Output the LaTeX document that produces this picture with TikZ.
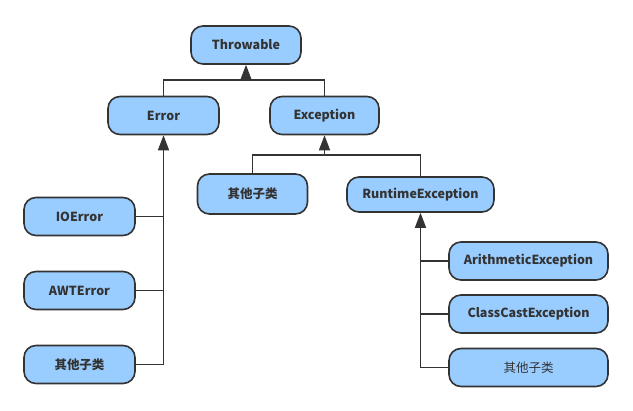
\documentclass[tikz,border=0pt]{standalone}
\usepackage{fontspec}
\setmainfont{Noto Sans CJK SC}
\usetikzlibrary{arrows.meta, positioning}

\definecolor{boxfill}{HTML}{99CCFF}
\definecolor{boxline}{HTML}{333333}

\tikzset{
  cls/.style={draw=boxline, fill=boxfill, line width=1.6pt, rounded corners=12pt,
    minimum height=38pt, inner sep=0pt, font=\fontsize{12.5}{14}\selectfont\bfseries,
    text=boxline},
  link/.style={draw=boxline, line width=1.6pt},
  arrow/.style={link, -{Triangle[width=11pt,length=15pt]}}
}

\begin{document}
\begin{tikzpicture}[x=1pt, y=-1pt]
      \useasboundingbox (0,0) rectangle (633,411);
      \node[cls, minimum width=110pt] (throwable) at (246,45) {Throwable};
      \node[cls, minimum width=111pt] (error) at (163.5,115.5) {Error};
      \node[cls, minimum width=109pt] (exception) at (324.5,115.5) {Exception};
      \node[cls, minimum width=111pt] (ioerror) at (79.5,216.5) {IOError};
      \node[cls, minimum width=111pt] (awterror) at (79.5,290.5) {AWTError};
      \node[cls, minimum width=111pt] (errother) at (79.5,364.5) {其他子类};
      \node[cls, minimum width=110pt, minimum height=40pt] (excother) at (252.5,194) {其他子类};
      \node[cls, minimum width=147pt, minimum height=35pt] (runtime) at (420.5,194.5) {RuntimeException};
      \node[cls, minimum width=159pt] (arith) at (528.5,261) {ArithmeticException};
      \node[cls, minimum width=159pt] (classcast) at (528.5,314) {ClassCastException};
      \node[cls, minimum width=159pt, font=\fontsize{12.5}{14}\selectfont] (rtother) at (528.5,367.5) {其他子类};
      % Throwable
      \coordinate (tjoin) at (246,80);
      \draw[link] (error.north) |- (tjoin) -| (exception.north);
      \draw[arrow] (tjoin) -- (throwable.south);
      % Error
      \draw[arrow] (errother.east) -| (error.south);
      \draw[link] (ioerror.east) -- (ioerror.east -| error.south);
      \draw[link] (awterror.east) -- (awterror.east -| error.south);
      % Exception
      \coordinate (ejoin) at (324.5,155);
      \draw[link] (excother.north) |- (ejoin) -| (runtime.north);
      \draw[arrow] (ejoin) -- (exception.south);
      % RuntimeException
      \draw[arrow] (rtother.west) -| (runtime.south);
      \draw[link] (arith.west) -- (arith.west -| runtime.south);
      \draw[link] (classcast.west) -- (classcast.west -| runtime.south);
\end{tikzpicture}
\end{document}
